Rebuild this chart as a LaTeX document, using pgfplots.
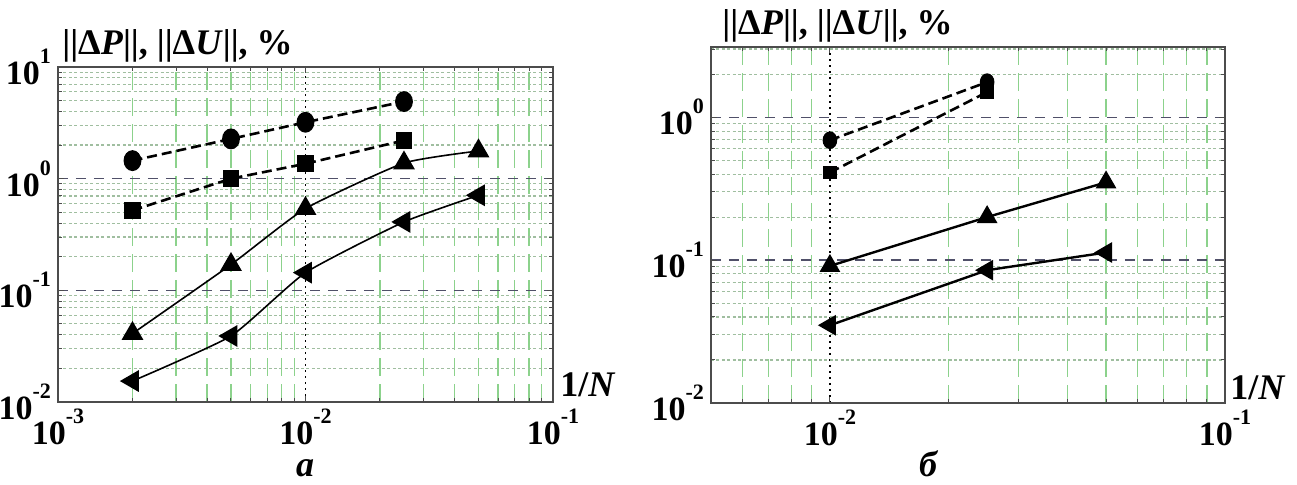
\documentclass[border=0pt]{standalone}
\usepackage{pgfplots}
\pgfplotsset{compat=1.18}
\usepackage{fontspec}
\setmainfont{Liberation Serif}
\definecolor{gridgreen}{RGB}{140,210,140}
\definecolor{gridgray}{RGB}{160,190,160}
\definecolor{majgrid}{RGB}{80,80,105}
\newcommand{\tp}[1]{10\raisebox{0.62em}{\fontsize{11}{11}\selectfont #1}}
\pgfplotsset{
 myaxis/.style={
  scale only axis, anchor=south west,
  axis line style={black!70, line width=0.9pt},
  tick style={black!70, line width=0.5pt},
  major tick length=3pt, minor tick length=2pt,
  xminorgrids=true, yminorgrids=true, xmajorgrids=true, ymajorgrids=true,
  minor x grid style={gridgreen, line width=0.6pt, dash pattern=on 9pt off 4pt},
  minor y grid style={gridgray, line width=0.55pt, dash pattern=on 1.5pt off 1.2pt},
  major y grid style={majgrid, line width=0.7pt, dash pattern=on 5pt off 4pt},
  major x grid style={black, line width=0.6pt, dash pattern=on 1pt off 2pt},
  tick label style={font=\fontsize{17}{17}\selectfont\bfseries},
  clip=false,
 },
 dsh/.style={black, line width=1.3pt, dash pattern=on 5pt off 2.5pt},
 sld/.style={black, line width=0.8pt},
}
\begin{document}
\begin{tikzpicture}
\useasboundingbox (0,0) rectangle (648.5pt,242.5pt);
% ---------- a ----------
\begin{loglogaxis}[myaxis, at={(29pt,41.5pt)}, width=247.5pt, height=167.5pt,
  xmin=1e-3, xmax=1e-1, ymin=1e-2, ymax=1e1,
  xtick={0.001,0.01,0.1}, xticklabels={\tp{-3},\tp{-2},\tp{-1}},
  ytick={0.01,0.1,1,10}, yticklabels={\tp{-2},\tp{-1},\tp{0},\tp{1}},
  minor xtick={0.002,0.003,0.004,0.005,0.006,0.007,0.008,0.009,0.02,0.03,0.04,0.05,0.06,0.07,0.08,0.09},
  minor ytick={0.02,0.03,0.04,0.05,0.06,0.07,0.08,0.09,0.2,0.3,0.4,0.5,0.6,0.7,0.8,0.9,2,3,4,5,6,7,8,9},
]
\addplot[dsh, mark=*, mark size=3.8pt, mark options={solid, yscale=1.2}] coordinates {(0.002,1.45)(0.005,2.27)(0.01,3.2)(0.025,4.9)};
\addplot[dsh, mark=square*, mark size=3.5pt, mark options={solid}] coordinates {(0.002,0.52)(0.005,1.0)(0.01,1.36)(0.025,2.2)};
\addplot[sld, smooth, tension=0.3, mark=triangle*, mark size=5.5pt, mark options={solid}] coordinates {(0.002,0.041)(0.005,0.17)(0.01,0.54)(0.025,1.38)(0.05,1.77)};
\addplot[sld, smooth, tension=0.3, mark=triangle*, mark size=5.5pt, mark options={solid, rotate=90}] coordinates {(0.002,0.0154)(0.005,0.039)(0.01,0.144)(0.025,0.41)(0.05,0.71)};
\end{loglogaxis}
% ---------- b ----------
\begin{loglogaxis}[myaxis, at={(355.5pt,41pt)}, width=257pt, height=178pt,
  xmin=5e-3, xmax=1e-1, ymin=1e-2, ymax=3.1,
  xtick={0.01,0.1}, xticklabels={\tp{-2},\tp{-1}},
  ytick={0.01,0.1,1}, yticklabels={\tp{-2},\tp{-1},\tp{0}},
  minor xtick={0.006,0.007,0.008,0.009,0.02,0.03,0.04,0.05,0.06,0.07,0.08,0.09},
  minor ytick={0.02,0.03,0.04,0.05,0.06,0.07,0.08,0.09,0.2,0.3,0.4,0.5,0.6,0.7,0.8,0.9,2,3},
]
\addplot[dsh, mark=*, mark size=3pt, mark options={solid, yscale=1.25}] coordinates {(0.01,0.69)(0.025,1.76)};
\addplot[dsh, mark=square*, mark size=2.8pt, mark options={solid}] coordinates {(0.01,0.41)(0.025,1.5)};
\addplot[sld, line width=1.2pt, mark=triangle*, mark size=4.8pt, mark options={solid}] coordinates {(0.01,0.091)(0.025,0.2)(0.05,0.35)};
\addplot[sld, line width=1.2pt, mark=triangle*, mark size=4.8pt, mark options={solid, rotate=90}] coordinates {(0.01,0.035)(0.025,0.085)(0.05,0.113)};
\end{loglogaxis}
% ---------- texts ----------
\node[anchor=base west, inner sep=0pt, font=\fontsize{18}{18}\selectfont\bfseries] at (31pt,215pt) {||Δ\textit{P}||, ||Δ\textit{U}||, \%};
\node[anchor=base west, inner sep=0pt, font=\fontsize{18}{18}\selectfont\bfseries] at (361pt,225pt) {||Δ\textit{P}||, ||Δ\textit{U}||, \%};
\node[anchor=base west, inner sep=0pt, font=\fontsize{18}{18}\selectfont\bfseries] at (280pt,44pt) {1/\textit{N}};
\node[anchor=base west, inner sep=0pt, font=\fontsize{18}{18}\selectfont\bfseries] at (615pt,42.5pt) {1/\textit{N}};
\node[anchor=base, inner sep=0pt, font=\fontsize{18}{18}\selectfont\bfseries\itshape] at (152.5pt,4pt) {a};
\node[anchor=base, inner sep=0pt, font=\fontsize{18}{18}\selectfont\bfseries\itshape] at (464pt,4pt) {б};
\end{tikzpicture}
\end{document}
